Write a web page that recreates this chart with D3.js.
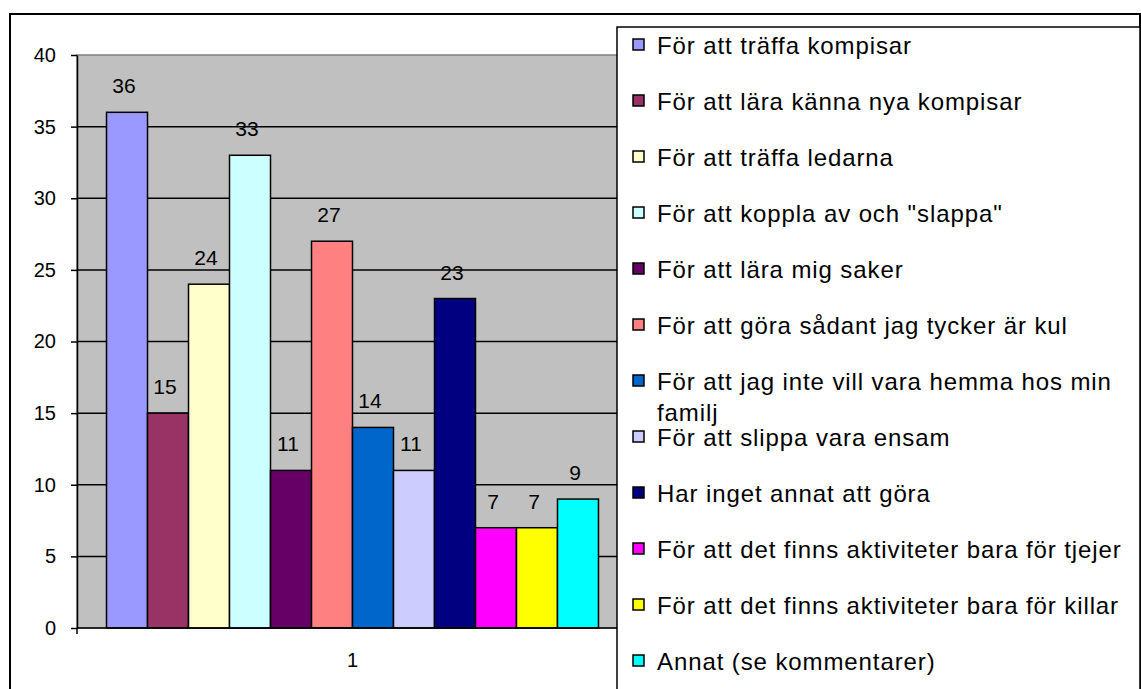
<!DOCTYPE html>
<html>
<head>
<meta charset="utf-8">
<script src="https://cdn.jsdelivr.net/npm/d3@7"></script>
<style>
  body { margin: 0; background: #fff; }
  svg text { font-family: "Liberation Sans", Arial, sans-serif; fill: #000; }
</style>
</head>
<body>
<svg id="chart" width="1141" height="689"></svg>
<script>
// Survey answers: why do you come here?
const categories = ["1"];
const seriesNames = [
  "För att träffa kompisar",
  "För att lära känna nya kompisar",
  "För att träffa ledarna",
  "För att koppla av och \"slappa\"",
  "För att lära mig saker",
  "För att göra sådant jag tycker är kul",
  "För att jag inte vill vara hemma hos min familj",
  "För att slippa vara ensam",
  "Har inget annat att göra",
  "För att det finns aktiviteter bara för tjejer",
  "För att det finns aktiviteter bara för killar",
  "Annat (se kommentarer)"
];
const seriesValues = [36, 15, 24, 33, 11, 27, 14, 11, 23, 7, 7, 9];
const seriesColors = [
  "#9999FF", "#993366", "#FFFFCC", "#CCFFFF", "#660066", "#FF8080",
  "#0066CC", "#CCCCFF", "#000080", "#FF00FF", "#FFFF00", "#00FFFF"
];
const yTicks = [0, 5, 10, 15, 20, 25, 30, 35, 40];

const svg = d3.select("#chart");

// plot area geometry
const plot = { left: 77, right: 628, top: 55, bottom: 628 };

const y = d3.scaleLinear().domain([0, 40]).range([plot.bottom, plot.top]);
const x0 = d3.scaleBand().domain(categories)
  .range([plot.left, plot.right]).paddingInner(0).paddingOuter(0.06);
const x1 = d3.scaleBand().domain(d3.range(seriesValues.length))
  .range([0, x0.bandwidth()]).padding(0);

// outer chart frame
svg.append("rect")
  .attr("x", 10).attr("y", 14).attr("width", 1130).attr("height", 700)
  .attr("fill", "#fff").attr("stroke", "#000").attr("stroke-width", 2);

// plot background
svg.append("rect")
  .attr("x", plot.left).attr("y", plot.top)
  .attr("width", plot.right - plot.left).attr("height", plot.bottom - plot.top)
  .attr("fill", "#C0C0C0").attr("stroke", "#808080").attr("stroke-width", 1.5);

// horizontal gridlines
svg.append("g").selectAll("line")
  .data(yTicks.filter(t => t > 0 && t < 40))
  .join("line")
  .attr("x1", plot.left).attr("x2", plot.right)
  .attr("y1", d => y(d)).attr("y2", d => y(d))
  .attr("stroke", "#000").attr("stroke-width", 1.5);

// bars
const group = svg.append("g").attr("transform", `translate(${x0(categories[0])},0)`);
group.selectAll("rect")
  .data(seriesValues)
  .join("rect")
  .attr("x", (d, i) => x1(i))
  .attr("y", d => y(d))
  .attr("width", x1.bandwidth())
  .attr("height", d => y(0) - y(d))
  .attr("fill", (d, i) => seriesColors[i])
  .attr("stroke", "#000").attr("stroke-width", 1.5);

// value labels
group.selectAll("text")
  .data(seriesValues)
  .join("text")
  .attr("x", (d, i) => x1(i) + x1.bandwidth() / 2 - 3)
  .attr("y", d => y(d) - 19)
  .attr("text-anchor", "middle")
  .attr("font-size", 21)
  .text(d => d);

// y axis
const yAxis = svg.append("g")
  .attr("transform", `translate(${plot.left},0)`)
  .call(d3.axisLeft(y).tickValues(yTicks).tickSize(6).tickPadding(15).tickSizeOuter(0));
yAxis.select(".domain").attr("stroke", "#000").attr("stroke-width", 1.5);
yAxis.selectAll(".tick line").attr("stroke", "#000").attr("stroke-width", 1.5);
yAxis.selectAll(".tick text")
  .attr("font-size", 20)
  .attr("font-family", "\"Liberation Sans\", Arial, sans-serif")
  .attr("fill", "#000");

// x axis with tick marks at category edges
const xAxis = svg.append("g").attr("transform", `translate(0,${plot.bottom})`);
xAxis.append("line")
  .attr("x1", plot.left).attr("x2", plot.right)
  .attr("stroke", "#000").attr("stroke-width", 1.5);
xAxis.selectAll("line.edge")
  .data([plot.left, plot.right])
  .join("line").attr("class", "edge")
  .attr("x1", d => d).attr("x2", d => d).attr("y1", 0).attr("y2", 6)
  .attr("stroke", "#000").attr("stroke-width", 1.5);
xAxis.selectAll("text")
  .data(categories)
  .join("text")
  .attr("x", d => x0(d) + x0.bandwidth() / 2)
  .attr("y", 39)
  .attr("text-anchor", "middle")
  .attr("font-size", 20)
  .text(d => d);

// legend
const legend = { left: 617, top: 27, right: 1140 };
svg.append("rect")
  .attr("x", legend.left).attr("y", legend.top)
  .attr("width", legend.right - legend.left).attr("height", 700)
  .attr("fill", "#fff").attr("stroke", "#000").attr("stroke-width", 1.5);

const rowStep = 56, firstBaseline = 54, textX = 657, maxTextW = 470;
const items = svg.append("g").selectAll("g")
  .data(seriesNames)
  .join("g")
  .attr("transform", (d, i) => `translate(0,${firstBaseline + i * rowStep})`);

items.append("rect")
  .attr("x", 633).attr("y", -15)
  .attr("width", 11).attr("height", 11)
  .attr("fill", (d, i) => seriesColors[i])
  .attr("stroke", "#000").attr("stroke-width", 1.5);

items.append("text")
  .attr("x", textX)
  .attr("y", 0)
  .attr("font-size", 24)
  .attr("letter-spacing", 0.9)
  .each(function (name) {
    const t = d3.select(this);
    const words = name.split(" ");
    let line = [];
    let tspan = t.append("tspan").attr("x", textX).attr("dy", 0);
    words.forEach(w => {
      line.push(w);
      tspan.text(line.join(" "));
      if (tspan.node().getComputedTextLength() > maxTextW && line.length > 1) {
        line.pop();
        tspan.text(line.join(" "));
        line = [w];
        tspan = t.append("tspan").attr("x", textX).attr("dy", 31).text(w);
      }
    });
  });
</script>
</body>
</html>
